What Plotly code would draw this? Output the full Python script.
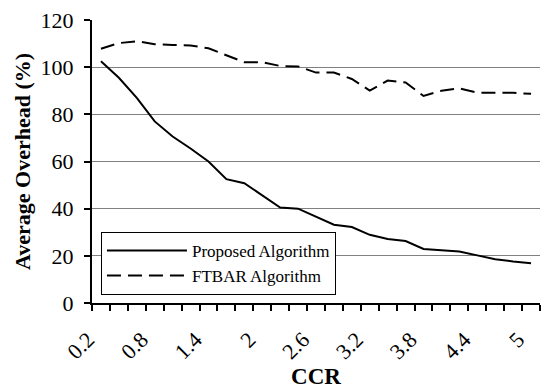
import plotly.graph_objects as go

ccr = [0.2, 0.4, 0.6, 0.8, 1.0, 1.2, 1.4, 1.6, 1.8, 2.0, 2.2, 2.4, 2.6,
       2.8, 3.0, 3.2, 3.4, 3.6, 3.8, 4.0, 4.2, 4.4, 4.6, 4.8, 5.0]
proposed = [102.5, 95.5, 87.0, 77.0, 70.6, 65.5, 60.0, 52.5, 50.8, 45.8,
            40.5, 40.0, 36.7, 33.2, 32.2, 28.9, 27.1, 26.3, 22.9, 22.2,
            21.8, 20.2, 18.6, 17.6, 16.9]
ftbar = [107.8, 110.2, 111.0, 109.7, 109.4, 109.2, 108.0, 105.0, 102.1, 102.1,
         100.5, 100.3, 97.7, 97.7, 95.0, 90.1, 94.3, 93.5, 87.8, 90.0,
         91.0, 89.2, 89.2, 89.1, 88.7]
tick_vals = [0.2, 0.8, 1.4, 2.0, 2.6, 3.2, 3.8, 4.4, 5.0]
tick_text = ["0.2", "0.8", "1.4", "2", "2.6", "3.2", "3.8", "4.4", "5"]

FONT = "Liberation Serif"

fig = go.Figure()
fig.add_trace(go.Scatter(x=ccr, y=proposed, mode="lines", name="Proposed Algorithm",
                         line=dict(color="black", width=2)))
fig.add_trace(go.Scatter(x=ccr, y=ftbar, mode="lines", name="FTBAR Algorithm",
                         line=dict(color="black", width=2, dash="14px,7px")))

fig.update_layout(
    width=542, height=389,
    margin=dict(l=92, r=2, t=20, b=86),
    paper_bgcolor="white", plot_bgcolor="white",
    font=dict(family=FONT, color="black", size=21),
    showlegend=True,
    legend=dict(x=0.02, y=0.251, xanchor="left", yanchor="top",
                bgcolor="white", bordercolor="black", borderwidth=1,
                font=dict(family=FONT, size=17, color="black"),
                itemwidth=80, tracegroupgap=0),
)
fig.update_xaxes(
    range=[0.1, 5.1], tickvals=tick_vals, ticktext=tick_text, tickangle=-45,
    ticks="", showgrid=False, showline=True, linecolor="black", linewidth=2,
    minor=dict(ticks="outside", dtick=0.2, tick0=0.1, ticklen=6, tickcolor="black",
               tickwidth=2, showgrid=False),
    tickfont=dict(family=FONT, size=22), ticklabelstandoff=13, ticklabelshift=-13,
    ticklabeloverflow="allow", automargin=False,
    title=dict(text="<b>CCR</b>", font=dict(family=FONT, size=23), standoff=14),
    zeroline=False,
)
fig.update_yaxes(
    range=[0, 120], dtick=20, ticks="outside", ticklen=6, tickwidth=2, tickcolor="black",
    showgrid=True, gridcolor="#808080", gridwidth=1,
    showline=True, linecolor="black", linewidth=2,
    tickfont=dict(family=FONT, size=22), ticklabelstandoff=6, automargin=False,
    title=dict(text="<b>Average Overhead (%)</b>", font=dict(family=FONT, size=22), standoff=4),
    zeroline=False,
)

fig.write_html("out.html")
